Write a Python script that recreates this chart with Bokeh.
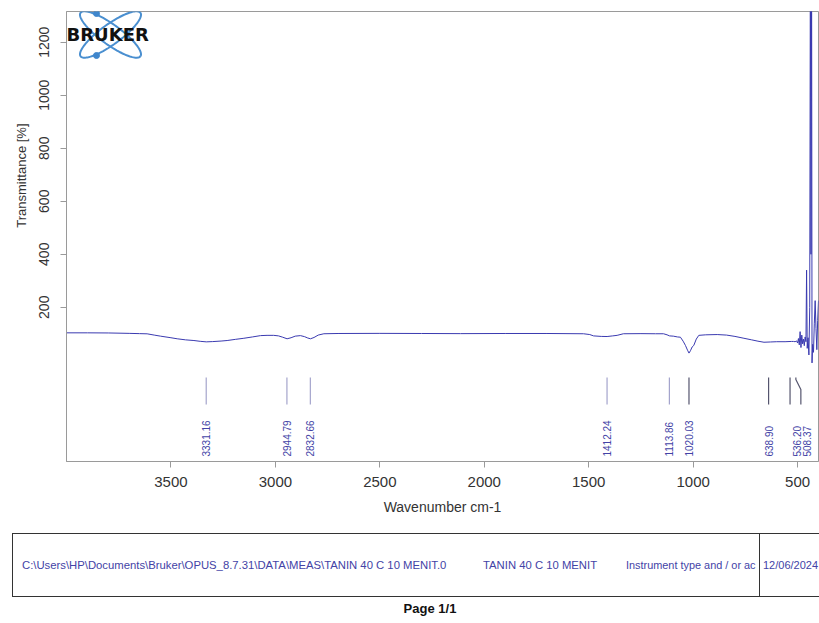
import numpy as np
from bokeh.plotting import figure
from bokeh.models import Range1d, FixedTicker, Label, ColumnDataSource, Title, Div
from bokeh.layouts import column
from bokeh.embed import file_html
from bokeh.resources import INLINE
from bokeh.core.properties import value

# ---------------- data ----------------
wavenumber = [4000, 3900, 3800, 3700, 3650, 3614, 3580, 3550, 3500, 3470, 3430, 3390,
              3360, 3331, 3300, 3260, 3231, 3190, 3151, 3110, 3071, 3040, 3008, 2985,
              2965, 2944, 2925, 2905, 2880, 2860, 2845, 2832, 2815, 2795, 2768, 2700,
              2500, 2300, 2114, 1900, 1700, 1525, 1495, 1477, 1440, 1412, 1385, 1364,
              1334, 1250, 1180, 1142, 1125, 1113, 1095, 1075, 1061, 1048, 1037, 1027,
              1020, 1013, 1005, 997, 985, 973, 940, 885, 840, 800, 757, 720, 690, 661,
              630, 600, 560, 530, 520, 512, 505, 500, 496, 492, 488, 484, 480, 476, 472,
              468, 464, 460, 457, 454, 450, 446, 442, 439, 436, 433, 431, 428, 424, 420,
              416, 412, 408, 404, 400]
transmittance = [103.5, 103.5, 103, 101.5, 100.5, 99.8, 95, 91, 85, 81, 77, 74.5,
                 71.5, 69.5, 70.5, 72.5, 74.5, 79, 83, 88, 93, 94, 94, 92,
                 87, 81, 85, 91, 93, 89, 84, 81, 86, 95, 100, 101,
                 101.5, 101, 100.5, 101, 101, 100, 97, 92, 90, 89.6, 92, 94,
                 100, 100.5, 100, 100, 96, 92, 91, 88, 87, 72, 56, 38,
                 27, 36, 50, 56, 80, 94, 96, 97, 95, 90, 83, 77, 72, 68,
                 69, 70, 70, 71, 71, 70, 73, 65, 82, 58, 108, 48, 95, 62, 80,
                 55, 88, 70, 340, 45, 85, 20, 200, 1500, 400, 1500, -10, 60, 30, 140,
                 225, 120, 40, 150, 225]

peak_wavenumbers = [3331.16, 2944.79, 2832.66, 1412.24, 1113.86, 1020.03, 638.90, 536.20, 508.37]
peak_labels = ["3331.16", "2944.79", "2832.66", "1412.24", "1113.86", "1020.03", "638.90", "536.20", "508.37"]
peak_strong = [False, False, False, False, False, True, True, True, True]

x_ticks = [3500, 3000, 2500, 2000, 1500, 1000, 500]
y_ticks = [200, 400, 600, 800, 1000, 1200]

x_title = "Wavenumber cm-1"
y_title = "Transmittance [%]"
logo_text = "BRUKER"
file_path = "C:\\Users\\HP\\Documents\\Bruker\\OPUS_8.7.31\\DATA\\MEAS\\TANIN 40 C 10 MENIT.0"
sample_name = "TANIN 40 C 10 MENIT"
instrument_text = "Instrument type and / or ac"
date_text = "12/06/2024"
page_text = "Page 1/1"

# ---------------- layout constants ----------------
W = 819
MAIN_H = 530
FOOT_H = 623 - MAIN_H
FL, FR, FT, FB = 66, 818, 11, 461
X_START, X_END = 4000, 400
Y_TOP, Y_BOT = 1316, -382
FONT = "Liberation Sans"
LINE_COL = "#3a3ab0"
LABEL_COL = "#4343a6"
AXIS_COL = "#9a9a9a"
TEXT_COL = "#333333"


def dx(px):
    return X_START + (np.asarray(px, dtype=float) - FL) * (X_END - X_START) / (FR - FL)


def dy(py):
    return Y_TOP + (np.asarray(py, dtype=float) - FT) * (Y_BOT - Y_TOP) / (FB - FT)


def sx(w):
    return FL + (np.asarray(w, dtype=float) - X_START) * (FR - FL) / (X_END - X_START)


p = figure(width=W, height=MAIN_H, output_backend="svg", toolbar_location=None,
           x_range=Range1d(X_START, X_END), y_range=Range1d(Y_BOT, Y_TOP),
           min_border_left=FL, min_border_right=W - FR, min_border_top=FT,
           min_border_bottom=MAIN_H - FB)
p.background_fill_color = "white"
p.border_fill_color = "white"
p.outline_line_color = AXIS_COL
p.outline_line_width = 1
p.grid.visible = False

for ax in (p.xaxis, p.yaxis):
    ax.axis_line_color = AXIS_COL
    ax.major_tick_line_color = AXIS_COL
    ax.minor_tick_line_color = None
    ax.major_tick_out = 6
    ax.major_tick_in = 0
    ax.major_label_text_font = FONT
    ax.major_label_text_color = TEXT_COL

p.xaxis.ticker = FixedTicker(ticks=x_ticks)
p.xaxis.major_label_text_font_size = "15px"
p.xaxis.major_label_standoff = 9
p.xaxis.axis_label = x_title
p.xaxis.axis_label_text_font = FONT
p.xaxis.axis_label_text_font_size = "14px"
p.xaxis.axis_label_text_font_style = "normal"
p.xaxis.axis_label_text_color = TEXT_COL
p.xaxis.axis_label_standoff = 9

p.yaxis.ticker = FixedTicker(ticks=y_ticks)
p.yaxis.major_label_text_font_size = "14px"
p.yaxis.major_label_orientation = "vertical"
p.yaxis.major_label_standoff = 11

# y axis title, placed towards the upper part of the axis as in the original
p.add_layout(Title(text=y_title, align="right", offset=112, text_font=FONT,
                   text_font_size="13px", text_font_style="normal",
                   text_color=TEXT_COL, standoff=16), "left")

# spectrum
p.line(wavenumber, transmittance, line_color=LINE_COL, line_width=1)

# peak markers
bend = [0, 0, 0, 0, 0, 0, 0, 0, 5]
text_shift = [0, 0, 0, 0, 0, 0, 0, 7, 11]
xs, ys, cols = [], [], []
for w, b, strong in zip(peak_wavenumbers, bend, peak_strong):
    px = float(sx(w))
    xs.append([w, w, float(dx(px + b)), float(dx(px + b))])
    ys.append([float(v) for v in dy([377, 379, 389, 404])])
    cols.append("#55556e" if strong else "#a4a4cc")
p.multi_line(xs=xs, ys=ys, line_color=cols, line_width=1.2)

lab_src = ColumnDataSource(dict(x=peak_wavenumbers, y=[float(dy(456))] * len(peak_wavenumbers),
                                text=peak_labels, xo=text_shift))
p.text(x="x", y="y", text="text", source=lab_src, angle=np.pi / 2, x_offset="xo",
       text_align="left", text_baseline="middle", text_font=value(FONT),
       text_font_size="10px", text_color=LABEL_COL)

# Bruker logo
tpar = np.linspace(0, 2 * np.pi, 120)
for ang in (36, -36):
    th = np.radians(ang)
    ex = 110 + 37 * np.cos(tpar) * np.cos(th) - 10 * np.sin(tpar) * np.sin(th)
    ey = 34 + 37 * np.cos(tpar) * np.sin(th) + 10 * np.sin(tpar) * np.cos(th)
    p.line(dx(ex), dy(ey), line_color="#4a8fd0", line_width=2)
p.scatter(dx([96, 96]), dy([13, 55]), size=6, color="#3f86cc")
p.add_layout(Label(x=float(dx(66)), y=float(dy(34)), text=logo_text, text_align="left",
                   text_baseline="middle", text_font="DejaVu Sans", text_font_style="bold",
                   text_font_size="18px", text_color="#111111"))

# ---------------- footer (page furniture under the plot) ----------------
def span(txt, left, top, size, color):
    return ('<span style="position:absolute;left:%dpx;top:%dpx;font-size:%s;color:%s;'
            'white-space:nowrap;line-height:14px;">%s</span>'
            % (left, top, size, color, txt))


footer_html = (
    '<div style="position:relative;width:819px;height:%dpx;overflow:hidden;'
    'font-family:\'Liberation Sans\',Arial,sans-serif;background:white;">' % FOOT_H
    + '<div style="position:absolute;left:12px;top:3px;width:820px;height:64px;'
      'box-sizing:border-box;border:1.5px solid #333;"></div>'
    + span(file_path, 22, 28, "11.3px", LABEL_COL)
    + span(sample_name, 483, 28, "11.3px", LABEL_COL)
    + span(instrument_text, 626, 28, "10.9px", LABEL_COL)
    + '<div style="position:absolute;left:759px;top:3px;width:0;height:64px;'
      'border-left:1.5px solid #333;"></div>'
    + span(date_text, 763, 28, "11px", LABEL_COL)
    + '<div style="position:absolute;left:0;width:860px;top:72px;text-align:center;'
      'font-size:13px;font-weight:bold;color:#111;line-height:14px;">%s</div>' % page_text
    + '</div>'
)
footer = Div(text=footer_html, width=W, height=FOOT_H, margin=(0, 0, 0, 0))

layout = column(p, footer, spacing=0)
open("out.html", "w").write(file_html(layout, INLINE))
